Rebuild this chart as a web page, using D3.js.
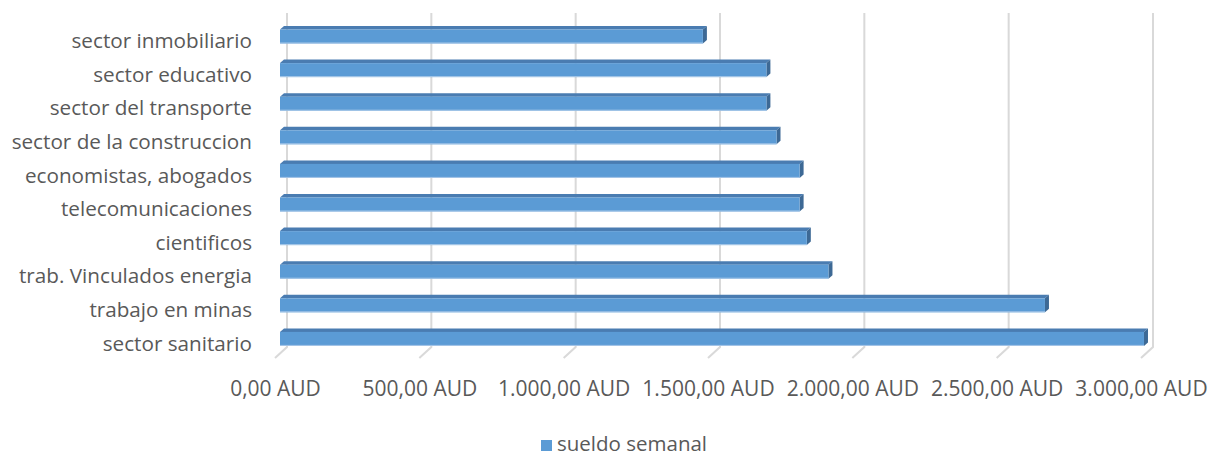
<!DOCTYPE html>
<html><head><meta charset="utf-8">
<script src="https://cdn.jsdelivr.net/npm/d3@7"></script>
<style>
html,body{margin:0;padding:0;background:#fff;}
svg{display:block;}
text{font-family:"Open Sans",sans-serif;fill:#595959;}
</style></head>
<body>
<svg id="chart" width="1209" height="456"></svg>
<script>
const categories = ["sector inmobiliario","sector educativo","sector del transporte","sector de la construccion","economistas, abogados","telecomunicaciones","cientificos","trab. Vinculados energia","trabajo en minas","sector sanitario"];
const sueldoSemanal = [1465, 1685, 1685, 1720, 1800, 1800, 1825, 1900, 2650, 2993];
const tickValues = [0, 500, 1000, 1500, 2000, 2500, 3000];
const seriesName = "sueldo semanal";

const svg = d3.select("#chart");
const FONT = "'Open Sans', sans-serif";

const xBack = d3.scaleLinear().domain([0, 3000]).range([287, 1153]);
const frontDX = -7, floorDX = -12, floorDY = 11;
const wallTop = 13, wallBottom = 347;

const y = d3.scaleBand().domain(categories).range([19.7, 355.7]).paddingInner(0).paddingOuter(0);
const barH = 14, topDX = 4, topDY = 3.5;

// gridlines
const grid = svg.append("g");
tickValues.forEach(v => {
  const x = xBack(v);
  grid.append("path")
    .attr("d", `M${x},${wallTop}L${x},${wallBottom}L${x+floorDX},${wallBottom+floorDY}`)
    .attr("fill","none").attr("stroke","#d9d9d9").attr("stroke-width",2);
});

// bars
const data = categories.map((c,i)=>({c, v: sueldoSemanal[i]}));
const bars = svg.append("g").selectAll("g").data(data).join("g");
bars.each(function(d){
  const g = d3.select(this);
  const x0 = xBack(0) + frontDX;
  const x1 = xBack(d.v) + frontDX;
  const yc = y(d.c) + y.bandwidth()/2;
  const y0 = yc - barH/2;
  g.append("path")
    .attr("d", `M${x0},${y0}L${x0+topDX},${y0-topDY}L${x1+topDX},${y0-topDY}L${x1},${y0}Z`)
    .attr("fill","#4a7cb1");
  g.append("path")
    .attr("d", `M${x1},${y0}L${x1+topDX},${y0-topDY}L${x1+topDX},${y0+barH-topDY}L${x1},${y0+barH}Z`)
    .attr("fill","#3d6995");
  g.append("rect")
    .attr("x", x0).attr("y", y0).attr("width", x1-x0).attr("height", barH)
    .attr("fill","#5b9bd5");
  g.append("line")
    .attr("x1", x0).attr("x2", x1).attr("y1", y0+barH-0.5).attr("y2", y0+barH-0.5)
    .attr("stroke","#a9c8e8").attr("stroke-width",1);
});

// x axis labels
const loc = d3.formatLocale({decimal: ",", thousands: ".", grouping: [3], currency: ["", ""]});
const fmt = v => loc.format(",.2f")(v) + " AUD";
const xLabel = d3.scaleLinear().domain(xBack.domain()).range(xBack.range().map(r => r + floorDX));
const xAxis = svg.append("g").attr("transform", "translate(0,381)")
  .call(d3.axisBottom(xLabel).tickValues(tickValues).tickFormat(fmt).tickSize(0).tickPadding(0));
xAxis.select(".domain").remove();
xAxis.selectAll("text").style("font-size","21px").attr("fill","#595959").attr("dy","0.71em")
  .style("font-family", FONT);

// category labels
const yLabel = d3.scaleBand().domain(categories).range(y.range().map(r => r + 5));
const yAxis = svg.append("g").attr("transform", "translate(252,0)")
  .call(d3.axisLeft(yLabel).tickSize(0).tickPadding(0));
yAxis.select(".domain").remove();
yAxis.selectAll("text").style("font-size","20.7px").attr("fill","#595959")
  .style("font-family", FONT);

// legend
const lg = svg.append("g").attr("transform","translate(541,440)");
lg.append("rect").attr("width",11).attr("height",11).attr("fill","#5b9bd5");
lg.append("text").attr("x",16).attr("y",11).style("font-size","20.5px")
  .style("font-family", FONT).text(seriesName);
</script>
</body></html>
